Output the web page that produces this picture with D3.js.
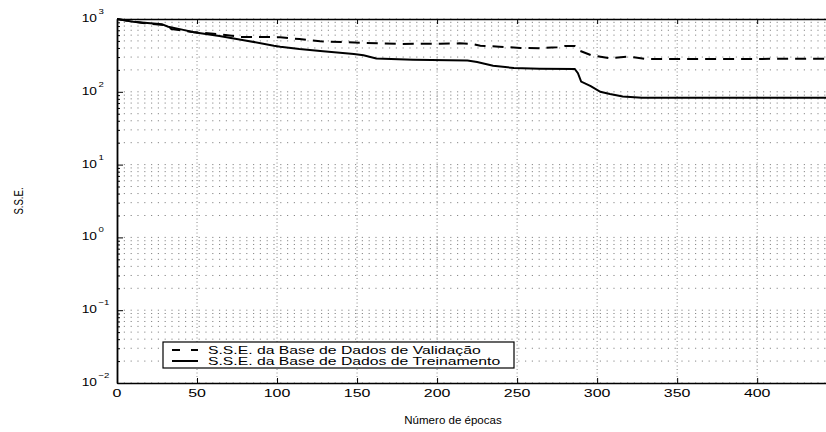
<!DOCTYPE html>
<html>
<head>
<meta charset="utf-8">
<title>S.S.E. por época</title>
<script src="https://cdn.jsdelivr.net/npm/d3@7"></script>
<style>
body { margin: 0; background: #fff; }
text { font-family: "Liberation Sans", Arial, Helvetica, sans-serif; fill: #000; }
.grid line { stroke: #888; stroke-width: 1; }
.axis path, .axis line { stroke: #000; }
</style>
</head>
<body>
<div id="chart"></div>
<script>

// curva de validação (tracejada)
var valEpochs = [0, 16, 30, 34, 47, 64, 77, 96, 102, 114, 127, 152, 177, 202, 214, 222, 227, 239, 252, 264, 275, 280, 286, 289, 296, 308, 319, 324, 331, 443];
var valSSE    = [1000, 881, 827, 730, 663, 617, 568, 565, 560, 530, 494, 472, 454, 458, 463, 455, 430, 417, 400, 396, 410, 426, 426, 367, 320, 288, 303, 295, 282, 284];

// curva de treinamento (contínua)
var trainEpochs = [0, 10, 28, 32, 40, 48, 64, 81, 98, 102, 114, 127, 148, 154, 162, 185, 219, 225, 235, 248, 264, 286, 288, 290, 296, 302, 308, 316, 328, 443];
var trainSSE    = [1000, 920, 850, 784, 720, 656, 584, 504, 430, 417, 387, 364, 331, 317, 286, 276, 270, 257, 228, 212, 208, 206, 180, 138, 120, 100, 93, 86, 83, 83];

var xTicks = [0, 50, 100, 150, 200, 250, 300, 350, 400];
var yDecades = [-2, -1, 0, 1, 2, 3];
var legendLabels = ["S.S.E. da Base de Dados de Validação", "S.S.E. da Base de Dados de Treinamento"];

var width = 826, height = 432;
var margin = {top: 19, right: 0, bottom: 49, left: 117};

var x = d3.scaleLinear().domain([0, 443]).range([margin.left, width - margin.right]);
var y = d3.scaleLog().domain([1e-2, 1e3]).range([height - margin.bottom, margin.top]);

var majors = yDecades.map(function(e) { return Math.pow(10, e); });
var minors = [];
yDecades.slice(0, -1).forEach(function(e) {
    for (var k = 2; k <= 9; k++) minors.push(k * Math.pow(10, e));
});

var svg = d3.select("#chart").append("svg")
    .attr("width", width)
    .attr("height", height);

// grade pontilhada
var grid = svg.append("g").attr("class", "grid");
grid.selectAll(".h").data(majors.concat(minors)).enter().append("line")
    .attr("x1", x(0)).attr("x2", width)
    .attr("y1", function(d) { return y(d); })
    .attr("y2", function(d) { return y(d); })
    .attr("stroke-dasharray", "1.2,5.6");
grid.selectAll(".v").data(xTicks.slice(1)).enter().append("line")
    .attr("x1", function(d) { return x(d); })
    .attr("x2", function(d) { return x(d); })
    .attr("y1", y(1e3)).attr("y2", y(1e-2))
    .attr("stroke-dasharray", "1,2.5");

// eixos
svg.append("g").attr("class", "axis")
    .attr("transform", "translate(" + x(0) + ",0)")
    .call(d3.axisLeft(y).tickValues(majors).tickSizeInner(-6).tickSizeOuter(0).tickFormat(""))
    .select(".domain").attr("stroke-width", 1.8);
svg.append("g").attr("class", "axis")
    .attr("transform", "translate(" + x(0) + ",0)")
    .call(d3.axisLeft(y).tickValues(minors).tickSizeInner(-3).tickSizeOuter(0).tickFormat(""))
    .select(".domain").remove();
svg.append("g").attr("class", "axis")
    .attr("transform", "translate(0," + y(1e-2) + ")")
    .call(d3.axisBottom(x).tickValues(xTicks).tickSizeInner(-5).tickSizeOuter(0).tickFormat(""))
    .select(".domain").attr("stroke-width", 1.5);
svg.append("g").attr("class", "axis")
    .attr("transform", "translate(0," + y(1e3) + ")")
    .call(d3.axisTop(x).tickValues(xTicks).tickSizeInner(-5).tickSizeOuter(0).tickFormat(""))
    .select(".domain").attr("stroke-width", 1.5);

// rótulos do eixo x
svg.selectAll(".xlab").data(xTicks).enter().append("text")
    .attr("text-anchor", "middle")
    .attr("font-size", 11)
    .attr("transform", function(d) { return "translate(" + x(d) + "," + (y(1e-2) + 14) + ") scale(1.45,1)"; })
    .text(function(d) { return d; });

// rótulos do eixo y (10^n)
var ylab = svg.selectAll(".ylab").data(yDecades).enter().append("g");
ylab.append("text")
    .attr("text-anchor", "end")
    .attr("font-size", 11)
    .attr("transform", function(d) { return "translate(97," + (y(Math.pow(10, d)) + 3) + ") scale(1.25,1)"; })
    .text("10");
ylab.append("text")
    .attr("font-size", 8)
    .attr("transform", function(d) { return "translate(98.5," + (y(Math.pow(10, d)) - 5) + ") scale(1.2,1)"; })
    .text(function(d) { return d < 0 ? "\u2212" + (-d) : d; });

svg.append("text")
    .attr("text-anchor", "middle")
    .attr("font-size", 11)
    .attr("transform", "translate(453,424) scale(1.05,1)")
    .text("Número de épocas");

svg.append("text")
    .attr("text-anchor", "middle")
    .attr("font-size", 12)
    .attr("transform", "translate(23," + ((y(1e3) + y(1e-2)) / 2) + ") rotate(-90) scale(0.8,1)")
    .text("S.S.E.");

// curvas
var line = d3.line()
    .x(function(d) { return x(d[0]); })
    .y(function(d) { return y(d[1]); });

svg.append("path")
    .datum(d3.zip(valEpochs, valSSE))
    .attr("fill", "none").attr("stroke", "#000").attr("stroke-width", 2)
    .attr("stroke-dasharray", "11,7")
    .attr("d", line);

svg.append("path")
    .datum(d3.zip(trainEpochs, trainSSE))
    .attr("fill", "none").attr("stroke", "#000").attr("stroke-width", 2)
    .attr("d", line);

// legenda
var legend = svg.append("g").attr("transform", "translate(163,342)");
legend.append("rect")
    .attr("width", 351).attr("height", 26)
    .attr("fill", "#fff").attr("stroke", "#000").attr("stroke-width", 1.2);
var rows = legend.selectAll(".row").data(legendLabels).enter().append("g")
    .attr("transform", function(d, i) { return "translate(0," + (8 + i * 11) + ")"; });
rows.append("line")
    .attr("x1", 9).attr("x2", 35)
    .attr("stroke", "#000").attr("stroke-width", 2)
    .attr("stroke-dasharray", function(d, i) { return i == 0 ? "8,11" : null; });
rows.append("text")
    .attr("font-size", 10.5)
    .attr("transform", "translate(45,4) scale(1.5,1)")
    .text(function(d) { return d; });

</script>
</body>
</html>
